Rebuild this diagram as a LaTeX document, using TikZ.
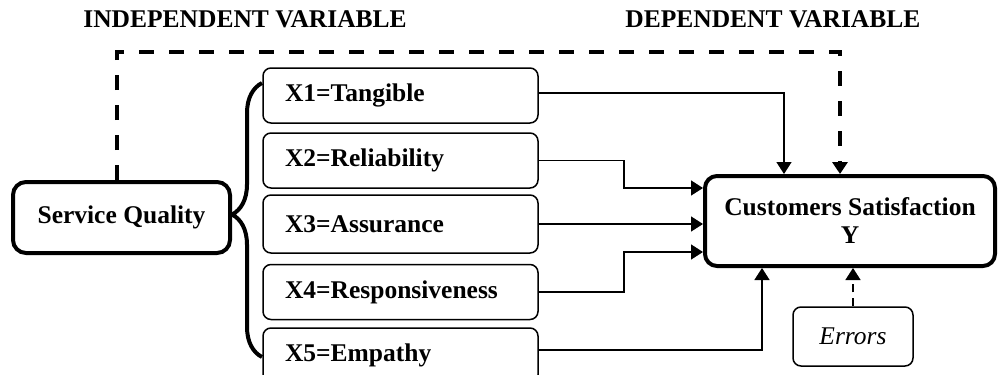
\documentclass[tikz,border=0pt]{standalone}
\usepackage{fontspec}
\setmainfont{Liberation Serif}
\usetikzlibrary{arrows.meta,decorations.pathreplacing}
\begin{document}
\begin{tikzpicture}[x=.5pt, y=-.5pt, >={Triangle[length=6pt,width=7.5pt]},
  font=\fontsize{12.75}{14}\selectfont\bfseries,
  factor/.style={draw, line width=.75pt, rounded corners=4pt, text width=115.5pt, inner xsep=11pt, align=left, minimum height=27.5pt},
  mainbox/.style={draw, line width=2pt, rounded corners=6.5pt, align=center},
  link/.style={->, line width=.75pt},
  bigdash/.style={->, line width=2pt, dash pattern=on 7.5pt off 7.5pt}]
\useasboundingbox (0,0) rectangle (998,375);
\node (indep) at (83,27)[anchor=base west, inner sep=0pt]{INDEPENDENT VARIABLE};
\node (dep) at (625,27)[anchor=base west, inner sep=0pt]{DEPENDENT VARIABLE};
\node (sq) at (121.5,217.5)[mainbox, minimum width=108.5pt, minimum height=35.5pt]{Service Quality};
\node (x1) at (400.5,95.5)[factor]{X1=Tangible};
\node (x2) at (400.5,160.5)[factor]{X2=Reliability};
\node (x3) at (400.5,224)[factor, minimum height=29pt]{X3=Assurance};
\node (x4) at (400.5,292)[factor]{X4=Responsiveness};
\node (x5) at (400.5,355.5)[factor]{X5=Empathy};
\node (cs) at (850,221)[mainbox, rounded corners=6pt, minimum width=145pt, minimum height=45pt]{Customers Satisfaction\\Y};
\node (err) at (853,336.5)[draw, line width=.75pt, rounded corners=4pt, minimum width=60pt, minimum height=29.5pt, font=\fontsize{12.75}{14}\selectfont\mdseries\itshape]{Errors};
\coordinate (bb) at (262,357);
\coordinate (bt) at (262,83);
\coordinate (top) at (840,52);
\draw[line width=2pt, decorate, decoration={brace, amplitude=15pt, aspect=.52}](bb)--(bt);
\draw[bigdash]([xshift=-2.25pt]sq.north) |- (top) -- (top |- cs.north);
\draw[link]([yshift=1.25pt]x1.east) -| ([xshift=-33pt]cs.north);
\draw[link](x2.east) -- ++(42.5pt,0) |- ([yshift=16.5pt]cs.west);
\draw[link](x3.east) -- (x3.east -| cs.west);
\draw[link](x4.east) -- ++(42.5pt,0) |- ([yshift=-15.5pt]cs.west);
\draw[link]([yshift=2.75pt]x5.east) -| ([xshift=-44pt]cs.south);
\draw[link, dash pattern=on 4pt off 3pt](err.north) -- (err.north |- cs.south);
\end{tikzpicture}
\end{document}
